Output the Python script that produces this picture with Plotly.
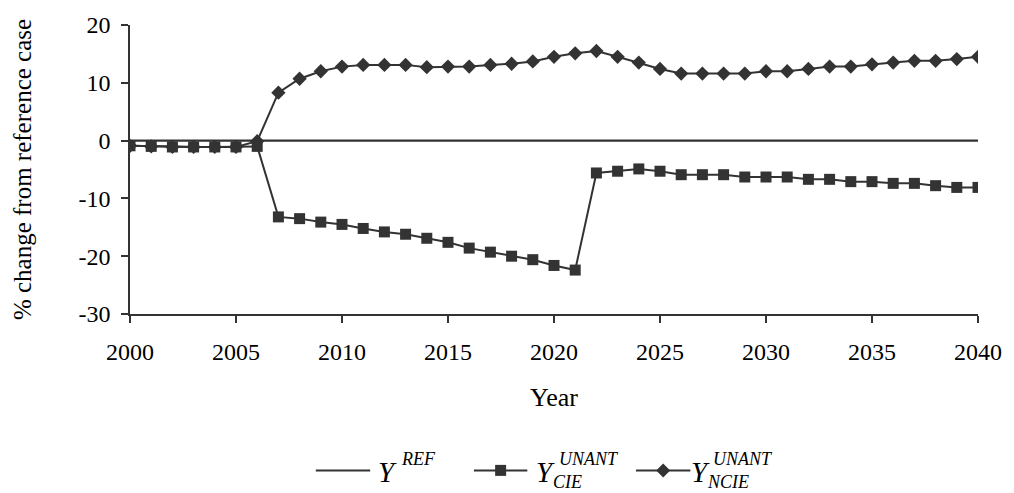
import plotly.graph_objects as go

# Simulation years and scenario results (% change from reference case)
years = list(range(2000, 2041))

ref_case = [0.0] * len(years)

cie_unant = [
    -0.9, -1.0, -1.1, -1.1, -1.1, -1.1, -1.0,
    -13.2, -13.5, -14.1, -14.5, -15.2, -15.8, -16.2, -16.9, -17.6,
    -18.6, -19.3, -20.0, -20.6, -21.6, -22.4,
    -5.6, -5.3, -4.9, -5.3, -5.9, -5.9, -5.9, -6.3, -6.3, -6.3,
    -6.7, -6.7, -7.1, -7.1, -7.4, -7.4, -7.8, -8.1, -8.1,
]

ncie_unant = [
    -0.9, -1.0, -1.1, -1.1, -1.1, -1.1, -0.1,
    8.3, 10.7, 12.0, 12.8, 13.1, 13.1, 13.1, 12.7, 12.8,
    12.8, 13.1, 13.3, 13.7, 14.5, 15.1,
    15.5, 14.5, 13.5, 12.4, 11.6, 11.6, 11.6, 11.6, 12.0, 12.0,
    12.4, 12.8, 12.8, 13.2, 13.5, 13.8, 13.8, 14.1, 14.5,
]

x_ticks = list(range(2000, 2041, 5))
y_ticks = [-30, -20, -10, 0, 10, 20]

INK = "#333333"
SERIF = "Liberation Serif"

W, H = 1014, 493
ML, MR, MT, MB = 130, 26, 22, 179
PW, PH = W - ML - MR, H - MT - MB


def px_x(px):
    return (px - ML) / PW


def px_y(py):
    return (H - MB - py) / PH


fig = go.Figure()

fig.add_trace(go.Scatter(
    x=years, y=ref_case, mode="lines",
    line=dict(color=INK, width=2.2),
    showlegend=False, hoverinfo="skip",
))
fig.add_trace(go.Scatter(
    x=years, y=cie_unant, mode="lines+markers",
    line=dict(color=INK, width=2),
    marker=dict(symbol="square", size=11, color=INK),
    showlegend=False,
))
fig.add_trace(go.Scatter(
    x=years, y=ncie_unant, mode="lines+markers",
    line=dict(color=INK, width=2),
    marker=dict(symbol="diamond", size=11, color=INK),
    showlegend=False,
))

# Legend drawn below the plot: key lines, key markers and stacked labels
shapes = []
annotations = []
legend_y = 472
keys = [
    # (line start px, line end px, marker)
    (318, 373, None),
    (478, 532, "square"),
    (642, 697, "diamond"),
]
for x0, x1, mk in keys:
    shapes.append(dict(
        type="line", xref="paper", yref="paper",
        x0=px_x(x0), x1=px_x(x1), y0=px_y(legend_y), y1=px_y(legend_y),
        line=dict(color=INK, width=2),
    ))
    xc = px_x((x0 + x1) / 2)
    yc = px_y(legend_y)
    if mk == "square":
        shapes.append(dict(
            type="rect", xref="paper", yref="paper",
            xsizemode="pixel", ysizemode="pixel", xanchor=xc, yanchor=yc,
            x0=-5.5, x1=5.5, y0=-5.5, y1=5.5,
            fillcolor=INK, line=dict(width=0),
        ))
    elif mk == "diamond":
        shapes.append(dict(
            type="path", xref="paper", yref="paper",
            xsizemode="pixel", ysizemode="pixel", xanchor=xc, yanchor=yc,
            path="M -7 0 L 0 7 L 7 0 L 0 -7 Z",
            fillcolor=INK, line=dict(width=0),
        ))


def label(text, px, py, size):
    annotations.append(dict(
        text=text, xref="paper", yref="paper",
        x=px_x(px), y=px_y(py), xanchor="left", yanchor="middle",
        showarrow=False, font=dict(family=SERIF, size=size, color="black"),
    ))


big, small = 29, 18
label("<i>Y</i>", 379, 474, big)
label("<i>REF</i>", 402, 461, small)
label("<i>Y</i>", 539, 474, big)
label("<i>UNANT</i>", 562, 461, small)
label("<i>CIE</i>", 556, 484, small)
label("<i>Y</i>", 696, 474, big)
label("<i>UNANT</i>", 718, 461, small)
label("<i>NCIE</i>", 712, 484, small)

fig.update_layout(
    width=W, height=H,
    margin=dict(l=ML, r=MR, t=MT, b=MB, pad=0),
    paper_bgcolor="white", plot_bgcolor="white",
    font=dict(family=SERIF, color="black"),
    shapes=shapes, annotations=annotations,
    showlegend=False,
    xaxis=dict(
        range=[2000, 2040], tickvals=x_ticks, ticktext=[str(v) for v in x_ticks],
        showgrid=False, zeroline=False,
        showline=True, linecolor=INK, linewidth=1.5,
        ticks="outside", ticklen=7, tickcolor=INK, tickwidth=1.5,
        ticklabelstandoff=8,
        tickfont=dict(family=SERIF, size=24, color="black"),
        title=dict(text="Year", font=dict(family=SERIF, size=26, color="black"), standoff=24),
    ),
    yaxis=dict(
        range=[-30, 20], tickvals=y_ticks, ticktext=[str(v) for v in y_ticks],
        showgrid=False, zeroline=False,
        showline=True, linecolor=INK, linewidth=1.5,
        ticks="outside", ticklen=7, tickcolor=INK, tickwidth=1.5,
        ticklabelstandoff=6,
        tickfont=dict(family=SERIF, size=24, color="black"),
        title=dict(text="% change from reference case",
                   font=dict(family=SERIF, size=25, color="black"), standoff=40),
    ),
)

fig.write_html("out.html")
